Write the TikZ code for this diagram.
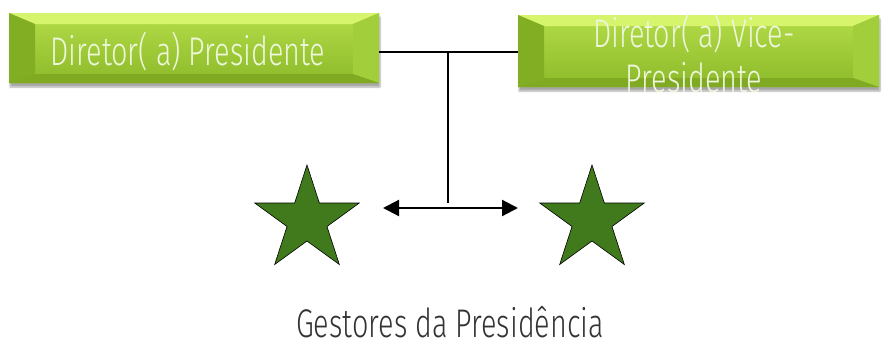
\documentclass[tikz,border=0pt]{standalone}
\usepackage{fontspec}
\newfontfamily\handfont[FakeStretch=0.72]{Fira Sans Light}
\usepackage{tikz}
\usetikzlibrary{shapes.geometric,shapes.misc,arrows.meta,shadows.blur}
\usepackage{xcolor}

\definecolor{facetop}{HTML}{B4DC48}
\definecolor{facebot}{HTML}{8CBA2A}
\definecolor{bevtop}{HTML}{D6F46C}
\definecolor{bevleft}{HTML}{82AE24}
\definecolor{bevright}{HTML}{A2CE3C}
\definecolor{bevbot}{HTML}{7FAA22}
\definecolor{starfill}{HTML}{407A1C}
\definecolor{boxtextcol}{HTML}{EEF6DC}
\definecolor{captextcol}{HTML}{333333}

\tikzset{
    bevelbox/.style={chamfered rectangle, chamfered rectangle corners=north east,
        chamfered rectangle xsep=11pt, chamfered rectangle ysep=10pt,
        inner sep=0pt, top color=facetop, bottom color=facebot,
        blur shadow={shadow xshift=1pt, shadow yshift=-4pt, shadow blur steps=6, shadow opacity=35},
        path picture={
            \fill[bevtop] (path picture bounding box.north west) -- (path picture bounding box.north east)
                -- ([xshift=-26pt,yshift=-11pt]path picture bounding box.north east)
                -- ([xshift=26pt,yshift=-11pt]path picture bounding box.north west) -- cycle;
            \fill[bevleft] (path picture bounding box.north west) -- ([xshift=26pt,yshift=-11pt]path picture bounding box.north west)
                -- ([xshift=26pt,yshift=9pt]path picture bounding box.south west)
                -- (path picture bounding box.south west) -- cycle;
            \fill[bevright] (path picture bounding box.north east) -- ([xshift=-26pt,yshift=-11pt]path picture bounding box.north east)
                -- ([xshift=-26pt,yshift=9pt]path picture bounding box.south east)
                -- (path picture bounding box.south east) -- cycle;
            \fill[bevbot] (path picture bounding box.south west) -- ([xshift=26pt,yshift=9pt]path picture bounding box.south west)
                -- ([xshift=-26pt,yshift=9pt]path picture bounding box.south east)
                -- (path picture bounding box.south east) -- cycle;
        }},
    boxtext/.style={inner sep=0pt, text=boxtextcol, font=\handfont\fontsize{40}{45}\selectfont},
    captext/.style={inner sep=0pt, text=captextcol, font=\handfont\fontsize{40}{45}\selectfont},
    gstar/.style={star, star points=5, star point ratio=2.618, minimum size=110pt,
        inner sep=0pt, outer sep=0pt, fill=starfill, draw=black, line width=0.6pt},
    conn/.style={draw=black, line width=2.2pt}
}

\begin{document}
\begin{tikzpicture}[x=1pt, y=-1pt]
    \useasboundingbox (0,0) rectangle (882,348);

    % the two directors
    \node[bevelbox, minimum width=370pt, minimum height=70pt] (pres) at (194,48) {};
    \node[bevelbox, minimum width=361pt, minimum height=72pt] (vice) at (698.5,51) {};
    \node[boxtext, anchor=base] (prestext) at (188,65) {Diretor( a) Presidente};
    \node[boxtext, align=center] (vicetext) at (694,53) {Diretor( a) Vice-\\Presidente};

    % the two managers
    \node[gstar] (starL) at (307,220) {};
    \node[gstar] (starR) at (592,220) {};
    \node[captext, anchor=base] (gest) at (450,337) {Gestores da Presidência};

    % connectors
    \coordinate (jn) at (448,52);
    \coordinate (jnbot) at (448,203);
    \coordinate (arrL) at (383,208);
    \coordinate (arrR) at (518,208);
    \draw[conn] (pres.east |- jn) -- (vice.west |- jn);
    \draw[conn] (jn) -- (jnbot);
    \draw[conn, {Triangle[length=16pt,width=16pt]}-{Triangle[length=16pt,width=16pt]}] (arrL) -- (arrR);
\end{tikzpicture}
\end{document}
